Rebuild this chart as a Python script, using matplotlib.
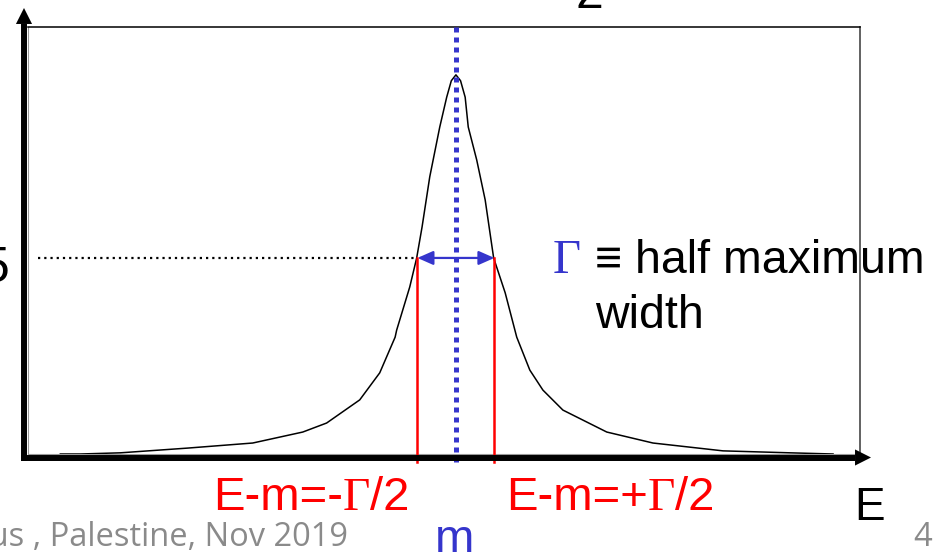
import matplotlib
matplotlib.use("Agg")

import matplotlib.pyplot as plt
from matplotlib.lines import Line2D

W, H = 935, 552

# E - m in units of Gamma, and the resonance shape sampled along the curve
E_MINUS_M = [-5.14, -4.88, -4.36, -3.49, -2.64, -1.99, -1.68, -1.25, -0.99,
             -0.79, -0.77, -0.60, -0.51, -0.44, -0.34, -0.21, -0.12, -0.06,
             0.0, 0.06, 0.12, 0.16, 0.27, 0.38, 0.49, 0.64, 0.79, 0.96, 1.13,
             1.39, 1.96, 2.56, 3.47, 4.34, 4.90]
BW_SHAPE = [0.0, 0.0, 0.003, 0.015, 0.028, 0.056, 0.079, 0.138, 0.207,
            0.298, 0.316, 0.426, 0.5, 0.579, 0.707, 0.834, 0.91, 0.952,
            0.967, 0.952, 0.91, 0.834, 0.75, 0.648, 0.5, 0.411, 0.298, 0.214,
            0.163, 0.112, 0.056, 0.028, 0.008, 0.003, 0.0]

MASS = 0.0
HALF_MAX = 0.5
HALF_GAMMA = 0.5
X_RANGE = (-5.56, 5.25)
Y_RANGE = (0.0, 1.089)
DOTTED_START = -5.43

BLUE = "#3535cc"
RED = "#ff0000"
GREY = "#8a8a8a"
SANS = "Liberation Sans"
SERIF = "Liberation Serif"


def px(x, y):
    # pixel position -> figure fraction
    return x / W, 1 - y / H


fig = plt.figure(figsize=(W / 100, H / 100), dpi=100)
left, top = px(28, 27)
right, bottom = px(860, 454)
ax = fig.add_axes([left, bottom, right - left, top - bottom])
ax.set_xlim(*X_RANGE)
ax.set_ylim(*Y_RANGE)
ax.set_xticks([])
ax.set_yticks([])
ax.spines["top"].set_color("black")
ax.spines["top"].set_linewidth(1.1)
ax.spines["right"].set_color("#555555")
ax.spines["right"].set_linewidth(1.3)
ax.spines["left"].set_color("#999999")
ax.spines["bottom"].set_color("#999999")

# resonance curve
ax.plot(E_MINUS_M, BW_SHAPE, color="black", lw=1.1, zorder=3)

# half-maximum guide
ax.plot([DOTTED_START, MASS - HALF_GAMMA], [HALF_MAX, HALF_MAX], color="black",
        lw=1.6, linestyle=(0, (1, 1.8)), zorder=3)

# E - m = -/+ Gamma/2 markers
for xv in (MASS - HALF_GAMMA, MASS + HALF_GAMMA):
    ax.plot([xv, xv], [HALF_MAX, -0.02], color=RED, lw=1.8, clip_on=False, zorder=4)

# line at the peak, E = m
ax.plot([MASS, MASS], [Y_RANGE[1], -0.025], color=BLUE, lw=3.6,
        linestyle=(0, (1, 1)), dash_capstyle="butt", clip_on=False, zorder=5)

# full width arrow
ax.annotate("", xy=(MASS + HALF_GAMMA, HALF_MAX), xytext=(MASS - HALF_GAMMA, HALF_MAX),
            arrowprops=dict(arrowstyle="<|-|>,head_length=0.95,head_width=0.42",
                            mutation_scale=10, lw=1.6, color=BLUE,
                            shrinkA=0, shrinkB=0), zorder=6)

# thick axis arrows
fig.add_artist(Line2D([24 / W, 24 / W], [1 - 461 / H, 1 - 24 / H],
                      transform=fig.transFigure, lw=4.3, color="black",
                      solid_capstyle="butt"))
fig.add_artist(Line2D([21 / W, 855 / W], [1 - 457.5 / H, 1 - 457.5 / H],
                      transform=fig.transFigure, lw=4.3, color="black",
                      solid_capstyle="butt"))
head = dict(arrowstyle="-|>,head_length=1.15,head_width=0.58", mutation_scale=10,
            lw=0, fc="black", ec="none", shrinkA=0, shrinkB=0)
ax.annotate("", xy=px(24, 8), xytext=px(24, 25), xycoords="figure fraction",
            textcoords="figure fraction", arrowprops=head, annotation_clip=False)
ax.annotate("", xy=px(871, 457.5), xytext=px(854, 457.5), xycoords="figure fraction",
            textcoords="figure fraction", arrowprops=head, annotation_clip=False)


def mixed(x, y, parts, size, color):
    # chain text pieces left to right, each in its own family
    prev = None
    for s, fam in parts:
        if prev is None:
            prev = fig.text(*px(x, y), s, fontsize=size, family=fam, color=color,
                            ha="left", va="baseline")
        else:
            prev = ax.annotate(s, xy=(1, 0), xycoords=prev, fontsize=size,
                               family=fam, color=color, ha="left", va="bottom",
                               annotation_clip=False)
    return prev


mixed(213, 510, [("E-m=-", SANS), ("Γ", SERIF), ("/2", SANS)], 34, RED)
mixed(506, 510, [("E-m=+", SANS), ("Γ", SERIF), ("/2", SANS)], 34, RED)

fig.text(*px(553, 273), "Γ", fontsize=35, family=SERIF, color=BLUE, va="baseline")
fig.text(*px(595, 273), "≡ half maximum", fontsize=33.5, family=SANS, va="baseline")
fig.text(*px(595, 328), "width", fontsize=33.5, family=SANS, va="baseline")

fig.text(*px(455, 552), "m", fontsize=34, family=SANS, color=BLUE, ha="center",
         va="baseline")
fig.text(*px(854, 520), "E", fontsize=33, family=SANS, va="baseline")
fig.text(*px(10, 282), "0.5", fontsize=36, family=SANS, ha="right", va="baseline")
fig.text(*px(575, 8), "2", fontsize=36, family=SANS, va="baseline")

fig.text(*px(348, 546), "Nablus , Palestine, Nov 2019", fontsize=23.5,
         family="Open Sans", color=GREY, ha="right", va="baseline")
fig.text(*px(913, 546), "4", fontsize=23.5, family="Open Sans", color=GREY,
         va="baseline")

fig.savefig("out.png", dpi=100)
